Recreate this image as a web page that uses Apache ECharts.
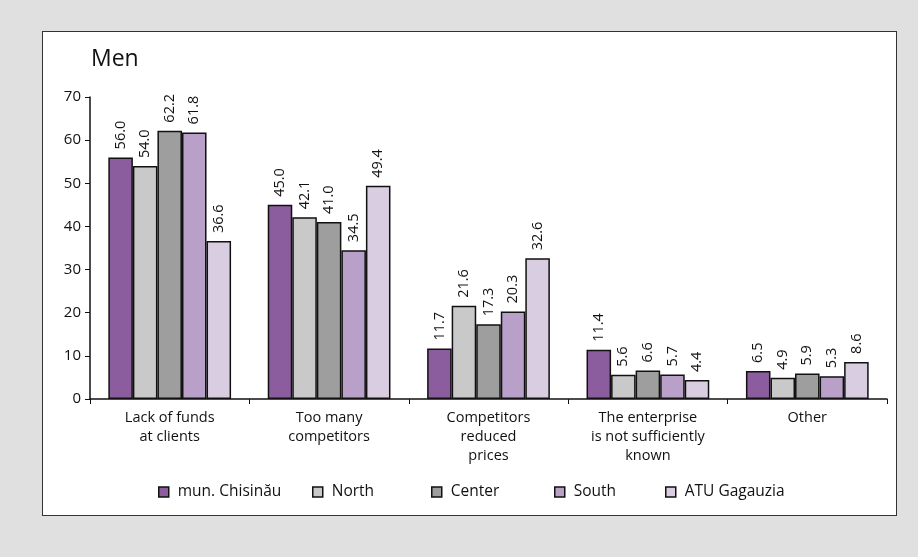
<!DOCTYPE html>
<html>
<head>
<meta charset="utf-8">
<script src="https://cdn.jsdelivr.net/npm/echarts@6/dist/echarts.min.js"></script>
<style>
  html, body { margin: 0; padding: 0; background: #e0e0e0; }
  #frame { position: absolute; left: 42px; top: 31px; width: 853px; height: 483px; background: #fff; border: 1px solid #333; }
  #chart { position: absolute; left: 0; top: 0; width: 918px; height: 557px; }
</style>
</head>
<body>
<div id="frame"></div>
<div id="chart"></div>
<script>
const categories = [
  'Lack of funds\nat clients',
  'Too many\ncompetitors',
  'Competitors\nreduced\nprices',
  'The enterprise\nis not sufficiently\nknown',
  'Other'
];
const seriesNames = ['mun. Chisinău', 'North', 'Center', 'South', 'ATU Gagauzia'];
const chisinau = [56.0, 45.0, 11.7, 11.4, 6.5];
const north    = [54.0, 42.1, 21.6, 5.6, 4.9];
const center   = [62.2, 41.0, 17.3, 6.6, 5.9];
const south    = [61.8, 34.5, 20.3, 5.7, 5.3];
const gagauzia = [36.6, 49.4, 32.6, 4.4, 8.6];
const yTicks = [0, 10, 20, 30, 40, 50, 60, 70];

const values = [chisinau, north, center, south, gagauzia];
const colors = ['#8b5c9e', '#c9c9c9', '#9e9e9e', '#b9a0c9', '#d9cde1'];
const legendLeft = [153, 307, 426, 549, 660];
const FONT = '"Open Sans", "Noto Sans", sans-serif';

const chart = echarts.init(document.getElementById('chart'), null, { renderer: 'canvas' });

const series = seriesNames.map((name, i) => ({
  name: name,
  type: 'bar',
  data: values[i],
  barGap: '0%',
  barCategoryGap: '23%',
  itemStyle: { color: colors[i], borderColor: '#111', borderWidth: 1.5 },
  label: {
    show: true,
    position: 'top',
    rotate: 90,
    align: 'left',
    verticalAlign: 'middle',
    distance: 8,
    fontFamily: FONT,
    fontSize: 14.5,
    color: '#111',
    formatter: p => p.value.toFixed(1)
  }
}));

const legends = seriesNames.map((name, i) => ({
  data: [name],
  left: legendLeft[i],
  top: 479,
  itemWidth: 10,
  itemHeight: 10,
  itemStyle: { borderColor: '#111', borderWidth: 1.5 },
  icon: 'rect',
  textStyle: { fontFamily: FONT, fontSize: 15.5, color: '#111', padding: [0, 0, 0, 4] },
  selectedMode: false
}));

chart.setOption({
  animation: false,
  color: colors,
  title: {
    text: 'Men',
    left: 86,
    top: 43,
    textStyle: { fontFamily: FONT, fontSize: 23, fontWeight: 'normal', color: '#111' }
  },
  legend: legends,
  grid: { left: 90, right: 31, top: 97, bottom: 158, containLabel: false },
  xAxis: {
    type: 'category',
    data: categories,
    axisLine: { lineStyle: { color: '#111', width: 1.5 } },
    axisTick: { show: true, length: 5, lineStyle: { color: '#111' } },
    axisLabel: { fontFamily: FONT, fontSize: 14.5, color: '#111', lineHeight: 19, margin: 9, interval: 0 }
  },
  yAxis: {
    type: 'value',
    min: yTicks[0],
    max: yTicks[yTicks.length - 1],
    interval: 10,
    splitLine: { show: false },
    axisLine: { show: true, lineStyle: { color: '#111', width: 1.5 } },
    axisTick: { show: true, length: 5, lineStyle: { color: '#111' } },
    axisLabel: { fontFamily: FONT, fontSize: 15, color: '#111', margin: 9 }
  },
  series: series
});
</script>
</body>
</html>
